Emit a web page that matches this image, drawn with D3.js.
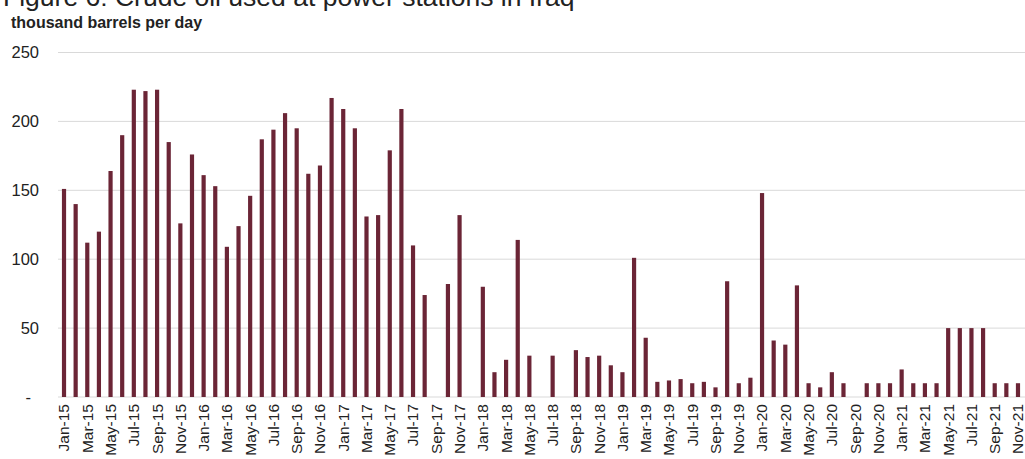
<!DOCTYPE html>
<html>
<head>
<meta charset="utf-8">
<script src="https://cdn.jsdelivr.net/npm/d3@7"></script>
<style>
  html, body { margin: 0; padding: 0; background: #fff; }
  svg { display: block; font-family: "Liberation Sans", Arial, sans-serif; }
</style>
</head>
<body>
<svg id="chart" width="1025" height="459"></svg>
<script>
const months = ["Jan","Feb","Mar","Apr","May","Jun","Jul","Aug","Sep","Oct","Nov","Dec"];
const years = ["15","16","17","18","19","20","21"];
const categories = [];
years.forEach(y => months.forEach(m => { if (!(y === "21" && m === "Dec")) categories.push(m + "-" + y); }));

const values = [
  151, 140, 112, 120, 164, 190, 223, 222, 223, 185, 126, 176,   // 2015
  161, 153, 109, 124, 146, 187, 194, 206, 195, 162, 168, 217,   // 2016
  209, 195, 131, 132, 179, 209, 110, 74, 0, 82, 132, 0,         // 2017
  80, 18, 27, 114, 30, 0, 30, 0, 34, 29, 30, 23,                // 2018
  18, 101, 43, 11, 12, 13, 10, 11, 7, 84, 10, 14,               // 2019
  148, 41, 38, 81, 10, 7, 18, 10, 0, 10, 10, 10,                // 2020
  20, 10, 10, 10, 50, 50, 50, 50, 10, 10, 10                    // 2021
];

const yTicks = [0, 50, 100, 150, 200, 250];
const yTickLabels = ["-", "50", "100", "150", "200", "250"];
const title = "Figure 6: Crude oil used at power stations in Iraq";
const subtitle = "thousand barrels per day";

const svg = d3.select("#chart");
const plotLeft = 58.2, plotRight = 1023.8, plotTop = 52.5, plotBottom = 397;

const x = d3.scaleBand().domain(categories).range([plotLeft, plotRight]).paddingInner(0.64).paddingOuter(0.32);
const y = d3.scaleLinear().domain([0, 250]).range([plotBottom, plotTop]);

// gridlines
svg.append("g").selectAll("line").data(yTicks.filter(d => d > 0)).join("line")
  .attr("x1", 58).attr("x2", 1025)
  .attr("y1", d => y(d)).attr("y2", d => y(d))
  .attr("stroke", "#d9d9d9").attr("stroke-width", 1);

// baseline
svg.append("line").attr("x1", 58).attr("x2", 1025)
  .attr("y1", y(0)).attr("y2", y(0)).attr("stroke", "#d9d9d9");

// bars
svg.append("g").selectAll("rect").data(values).join("rect")
  .attr("x", (d, i) => x(categories[i]))
  .attr("width", x.bandwidth())
  .attr("y", d => y(d))
  .attr("height", d => y(0) - y(d))
  .attr("fill", "#6b2536");

// y axis labels
const yAxis = d3.axisLeft(y).tickValues(yTicks).tickSize(0).tickPadding(0)
  .tickFormat((d, i) => yTickLabels[i]);
const yg = svg.append("g").attr("transform", "translate(39,0)").call(yAxis);
yg.select(".domain").remove();
yg.selectAll("text").attr("font-size", 16.5).attr("fill", "#222")
  .attr("font-family", "Liberation Sans, Arial, sans-serif")
  .attr("dx", (d) => d === 0 ? -8 : 0);

// x axis labels (every 2 months)
const xAxis = d3.axisBottom(x).tickValues(categories.filter((d, i) => i % 2 === 0)).tickSize(0).tickPadding(0);
const xg = svg.append("g").attr("transform", `translate(0,${plotBottom})`).call(xAxis);
xg.select(".domain").remove();
xg.selectAll("text")
  .attr("font-size", 15.5).attr("fill", "#222")
  .attr("font-family", "Liberation Sans, Arial, sans-serif")
  .attr("transform", "rotate(-90)")
  .attr("text-anchor", "end")
  .attr("x", -7).attr("y", 0).attr("dy", "0.35em");

// title (cut off at the top edge, as in the reference) + subtitle
svg.append("text").attr("x", 3).attr("y", 5.5).text(title)
  .attr("font-size", 26.5).attr("fill", "#222");
svg.append("text").attr("x", 11).attr("y", 28).text(subtitle)
  .attr("font-size", 16).attr("font-weight", "bold").attr("fill", "#222");
</script>
</body>
</html>
